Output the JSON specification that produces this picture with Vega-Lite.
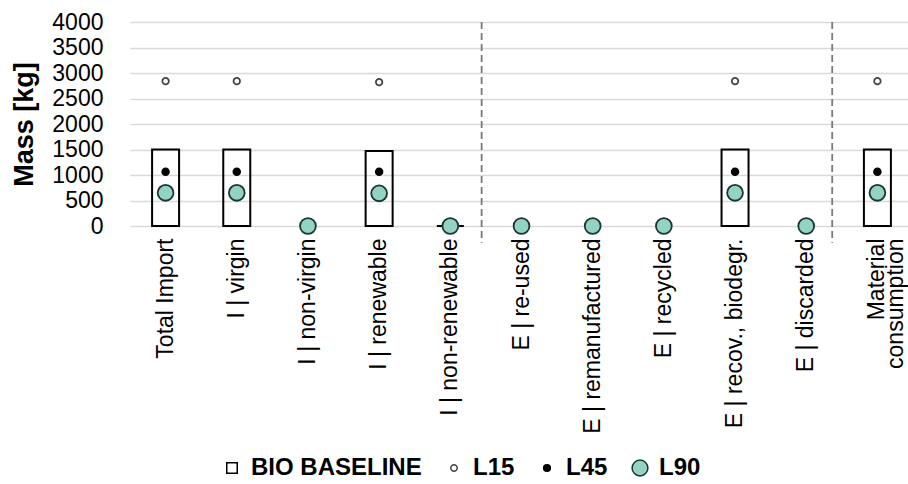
{
  "$schema": "https://vega.github.io/schema/vega-lite/v6.json",
  "autosize": "none",
  "width": 778,
  "height": 204,
  "padding": {"left": 130, "top": 22, "right": 0, "bottom": 258},
  "background": "white",
  "config": {
    "font": "Liberation Sans",
    "view": {"stroke": null},
    "axis": {"labelFont": "Liberation Sans", "titleFont": "Liberation Sans", "labelColor": "#000", "titleColor": "#000"},
    "legend": {"labelFont": "Liberation Sans"}
  },
  "datasets": {
    "dividers": [
      {"cat": "I | non-renewable", "top": 4000, "bottom": -330},
      {"cat": "E | discarded", "top": 4000, "bottom": -330}
    ],
    "mass": [
      {"cat": "Total Import", "series": "BIO BASELINE", "value": 1500},
      {"cat": "I | virgin", "series": "BIO BASELINE", "value": 1500},
      {"cat": "I | renewable", "series": "BIO BASELINE", "value": 1470},
      {"cat": "I | non-renewable", "series": "BIO BASELINE", "value": 0},
      {"cat": "E | recov., biodegr.", "series": "BIO BASELINE", "value": 1500},
      {"cat": "Material consumption", "series": "BIO BASELINE", "value": 1500},

      {"cat": "Total Import", "series": "L15", "value": 2840},
      {"cat": "I | virgin", "series": "L15", "value": 2840},
      {"cat": "I | non-virgin", "series": "L15", "value": 0},
      {"cat": "I | renewable", "series": "L15", "value": 2820},
      {"cat": "I | non-renewable", "series": "L15", "value": 0},
      {"cat": "E | re-used", "series": "L15", "value": 0},
      {"cat": "E | remanufactured", "series": "L15", "value": 0},
      {"cat": "E | recycled", "series": "L15", "value": 0},
      {"cat": "E | recov., biodegr.", "series": "L15", "value": 2840},
      {"cat": "E | discarded", "series": "L15", "value": 0},
      {"cat": "Material consumption", "series": "L15", "value": 2840},

      {"cat": "Total Import", "series": "L45", "value": 1065},
      {"cat": "I | virgin", "series": "L45", "value": 1065},
      {"cat": "I | non-virgin", "series": "L45", "value": 0},
      {"cat": "I | renewable", "series": "L45", "value": 1065},
      {"cat": "I | non-renewable", "series": "L45", "value": 0},
      {"cat": "E | re-used", "series": "L45", "value": 0},
      {"cat": "E | remanufactured", "series": "L45", "value": 0},
      {"cat": "E | recycled", "series": "L45", "value": 0},
      {"cat": "E | recov., biodegr.", "series": "L45", "value": 1065},
      {"cat": "E | discarded", "series": "L45", "value": 0},
      {"cat": "Material consumption", "series": "L45", "value": 1065},

      {"cat": "Total Import", "series": "L90", "value": 650},
      {"cat": "I | virgin", "series": "L90", "value": 650},
      {"cat": "I | non-virgin", "series": "L90", "value": 0},
      {"cat": "I | renewable", "series": "L90", "value": 640},
      {"cat": "I | non-renewable", "series": "L90", "value": 0},
      {"cat": "E | re-used", "series": "L90", "value": 0},
      {"cat": "E | remanufactured", "series": "L90", "value": 0},
      {"cat": "E | recycled", "series": "L90", "value": 0},
      {"cat": "E | recov., biodegr.", "series": "L90", "value": 650},
      {"cat": "E | discarded", "series": "L90", "value": 0},
      {"cat": "Material consumption", "series": "L90", "value": 650}
    ]
  },
  "data": {"name": "mass"},
  "layer": [
    {
      "data": {"name": "dividers"},
      "transform": [{"filter": "datum.cat == 'I | non-renewable'"}],
      "mark": {"type": "rule", "color": "#7a7a7a", "strokeWidth": 1.8, "strokeDash": [7, 4]},
      "encoding": {
        "x": {"field": "cat", "type": "nominal", "bandPosition": 0.94},
        "y": {"field": "top", "type": "quantitative"},
        "y2": {"field": "bottom"}
      }
    },
    {
      "data": {"name": "dividers"},
      "transform": [{"filter": "datum.cat == 'E | discarded'"}],
      "mark": {"type": "rule", "color": "#7a7a7a", "strokeWidth": 1.8, "strokeDash": [7, 4]},
      "encoding": {
        "x": {"field": "cat", "type": "nominal", "bandPosition": 0.865},
        "y": {"field": "top", "type": "quantitative"},
        "y2": {"field": "bottom"}
      }
    },
    {
      "transform": [{"filter": "datum.series == 'BIO BASELINE'"}],
      "mark": {"type": "bar", "fill": "white", "fillOpacity": 0, "stroke": "#000", "strokeWidth": 2, "size": 27},
      "encoding": {
        "x": {"field": "cat", "type": "nominal"},
        "y": {"field": "value", "type": "quantitative"}
      }
    },
    {
      "transform": [{"filter": "datum.series != 'BIO BASELINE'"}],
      "mark": {"type": "point", "filled": true, "strokeWidth": 1.8, "opacity": 1},
      "encoding": {
        "x": {"field": "cat", "type": "nominal"},
        "y": {"field": "value", "type": "quantitative"},
        "fill": {
          "field": "series", "type": "nominal",
          "scale": {"domain": ["BIO BASELINE", "L15", "L45", "L90"], "range": ["#ffffff", "#ffffff", "#000000", "#93d3c4"]},
          "legend": {
            "title": null, "orient": "none", "direction": "horizontal",
            "legendX": 90, "legendY": 434, "labelLimit": 0,
            "labelFontSize": 24, "labelFontWeight": "bold", "labelColor": "#000",
            "labelOffset": 7, "columnPadding": 20, "symbolStrokeWidth": 1.5
          }
        },
        "stroke": {
          "field": "series", "type": "nominal",
          "scale": {"domain": ["BIO BASELINE", "L15", "L45", "L90"], "range": ["#000000", "#444444", "#000000", "#1a3532"]}
        },
        "shape": {
          "field": "series", "type": "nominal",
          "scale": {"domain": ["BIO BASELINE", "L15", "L45", "L90"], "range": ["square", "circle", "circle", "circle"]}
        },
        "size": {
          "field": "series", "type": "nominal",
          "scale": {"type": "ordinal", "domain": ["BIO BASELINE", "L15", "L45", "L90"], "range": [110, 42, 45, 250]}
        }
      }
    }
  ],
  "encoding": {
    "x": {
      "field": "cat", "type": "nominal",
      "scale": {
        "domain": ["Total Import", "I | virgin", "I | non-virgin", "I | renewable", "I | non-renewable", "E | re-used", "E | remanufactured", "E | recycled", "E | recov., biodegr.", "E | discarded", "Material consumption"],
        "range": [0, 783], "paddingInner": 0, "paddingOuter": 0
      },
      "axis": {
        "title": null, "domain": false, "ticks": false, "tickSize": 0, "grid": false,
        "labelAngle": -90, "labelAlign": "right", "labelBaseline": "middle",
        "labelPadding": 12, "labelFontSize": 23, "labelLineHeight": 19, "labelLimit": 0,
        "labelExpr": "datum.value == 'Material consumption' ? ['Material\u00a0\u00a0\u00a0\u00a0', 'consumption'] : datum.label"
      }
    },
    "y": {
      "field": "value", "type": "quantitative",
      "scale": {"domain": [0, 4000], "nice": false, "zero": true},
      "axis": {
        "title": "Mass [kg]", "titleFontSize": 27, "titleFontWeight": "bold",
        "titleX": -98, "titleBaseline": "alphabetic", "titleAngle": -90,
        "values": [0, 500, 1000, 1500, 2000, 2500, 3000, 3500, 4000], "format": "d",
        "domain": false, "ticks": false, "tickSize": 0, "labelPadding": 27,
        "labelFontSize": 23, "labelBaseline": "middle",
        "grid": true, "gridColor": "#d9d9d9", "gridWidth": 1.5
      }
    }
  }
}
